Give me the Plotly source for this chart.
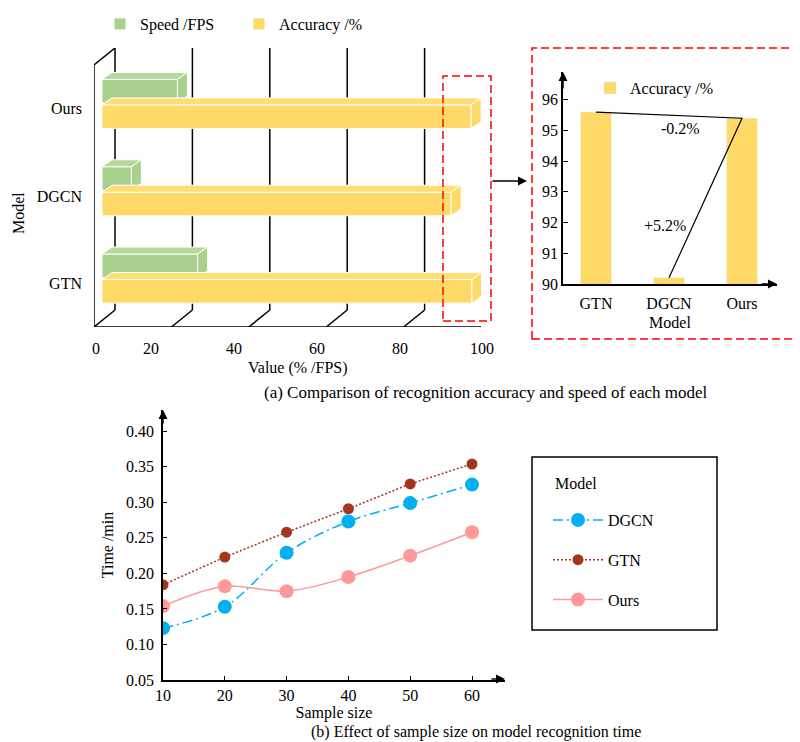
import plotly.graph_objects as go

# ---------------- data ----------------
models = ["GTN", "DGCN", "Ours"]
speed_fps = [24.7, 7.6, 19.5]
accuracy_pct = [95.6, 90.2, 95.4]
value_ticks = [0, 20, 40, 60, 80, 100]

inset_ticks = [90, 91, 92, 93, 94, 95, 96]
diff_labels = ["-0.2%", "+5.2%"]

sample_sizes = [10, 20, 30, 40, 50, 60]
time_dgcn = [0.123, 0.153, 0.229, 0.273, 0.299, 0.325]
time_gtn = [0.184, 0.223, 0.258, 0.291, 0.326, 0.354]
time_ours = [0.154, 0.182, 0.175, 0.195, 0.225, 0.258]
time_ticks = [0.05, 0.10, 0.15, 0.20, 0.25, 0.30, 0.35, 0.40]

# ---------------- style ----------------
W, H = 800, 742
OFF = 8   # page body margin of the browser
FONT = "Liberation Serif, Times New Roman, serif"
FS = 16
GREEN, GREEN_TOP = "#A9D18E", "#B5D99C"
YELLOW, YELLOW_TOP = "#FFD966", "#FFDD75"
BLUE, DARKRED, PINK = "#00B0F0", "#A5341F", "#FF9999"


def PX(x):
    return (x - OFF) / W


def PY(y):
    return 1 - (y - OFF) / H


fig = go.Figure()

# ---- top-left pseudo-3D chart geometry (axis units) ----
X0PX, X100PX = 94, 481
UX = (X100PX - X0PX) / 100.0      # px per value unit
UY = 87.3                          # px per category unit
DEP_X, DEP_Y = 21 / UX, 17 / UY    # back-plane offset
BAR_BASE = 8 / UX                  # bars sit inside the box
BDX, BDY = 10 / UX, 7 / UY         # bar depth
BAR_W = 0.27
ACC_SHIFT, SPD_SHIFT = -8 / UY, 17.5 / UY
YTOP = 3

shapes = []
LINE = dict(color="black", width=1.5)

shapes.append(dict(type="line", xref="x", yref="y", x0=0, y0=0, x1=0, y1=YTOP, line=LINE, layer="below"))
for k in range(YTOP + 1):
    shapes.append(dict(type="line", xref="x", yref="y", x0=0, y0=k, x1=-1.1, y1=k, line=LINE, layer="below"))
shapes.append(dict(type="line", xref="x", yref="y", x0=0, y0=YTOP, x1=DEP_X, y1=YTOP + DEP_Y, line=LINE, layer="below"))
shapes.append(dict(type="line", xref="x", yref="y", x0=0, y0=0, x1=100, y1=0, line=LINE, layer="below"))
for v in value_ticks:
    shapes.append(dict(type="line", xref="x", yref="y", x0=v, y0=0, x1=v + DEP_X, y1=DEP_Y, line=LINE, layer="below"))
    shapes.append(dict(type="line", xref="x", yref="y", x0=v + DEP_X, y0=DEP_Y, x1=v + DEP_X, y1=YTOP + DEP_Y,
                       line=LINE, layer="below"))

ypos = [i + 0.5 for i in range(len(models))]
spd_y = [p + SPD_SHIFT for p in ypos]
acc_y = [p + ACC_SHIFT for p in ypos]


def bar_faces(val, yc, top_col, side_col):
    x0, x1 = BAR_BASE, BAR_BASE + val
    yb, yt = yc - BAR_W / 2, yc + BAR_W / 2
    top = f"M{x0},{yt} L{x1},{yt} L{x1 + BDX},{yt + BDY} L{x0 + BDX},{yt + BDY} Z"
    side = f"M{x1},{yb} L{x1},{yt} L{x1 + BDX},{yt + BDY} L{x1 + BDX},{yb + BDY} Z"
    return [dict(type="path", xref="x", yref="y", path=top, fillcolor=top_col,
                 line=dict(color="white", width=1), layer="above"),
            dict(type="path", xref="x", yref="y", path=side, fillcolor=side_col,
                 line=dict(color="white", width=1), layer="above")]


for i in range(len(models)):
    shapes += bar_faces(speed_fps[i], spd_y[i], GREEN_TOP, GREEN)
    shapes += bar_faces(accuracy_pct[i], acc_y[i], YELLOW_TOP, YELLOW)

fig.add_trace(go.Bar(orientation="h", x=speed_fps, y=spd_y, base=BAR_BASE, width=BAR_W,
                     marker=dict(color=GREEN, line=dict(color="white", width=1)),
                     name="Speed /FPS", legend="legend", xaxis="x", yaxis="y", hoverinfo="skip"))
fig.add_trace(go.Bar(orientation="h", x=accuracy_pct, y=acc_y, base=BAR_BASE, width=BAR_W,
                     marker=dict(color=YELLOW, line=dict(color="white", width=1)),
                     name="Accuracy /%", legend="legend", xaxis="x", yaxis="y", hoverinfo="skip"))

# highlight box around the 90-100 region
shapes.append(dict(type="rect", xref="paper", yref="paper", x0=PX(443), x1=PX(491), y0=PY(321), y1=PY(76),
                   line=dict(color="#FF0000", width=1.5, dash="8px,4px"), layer="above"))
# inset frame
shapes.append(dict(type="rect", xref="paper", yref="paper", x0=PX(532), x1=PX(797), y0=PY(339), y1=PY(48),
                   line=dict(color="#FF0000", width=1.5, dash="8px,4px")))

# ---- inset bar chart ----
fig.add_trace(go.Bar(x=models, y=accuracy_pct, width=0.42, marker=dict(color=YELLOW),
                     name="Accuracy /%", legend="legend2", xaxis="x2", yaxis="y2", hoverinfo="skip"))
fig.add_trace(go.Scatter(x=[models[0], models[2], models[1]],
                         y=[accuracy_pct[0], accuracy_pct[2], accuracy_pct[1]],
                         mode="lines", line=dict(color="black", width=1.2),
                         showlegend=False, xaxis="x2", yaxis="y2", hoverinfo="skip"))

# ---- bottom line chart ----
fig.add_trace(go.Scatter(x=sample_sizes, y=time_dgcn, name="DGCN", mode="lines+markers",
                         line=dict(color=BLUE, width=1.5, dash="10px,4px,2px,4px", shape="spline"),
                         marker=dict(size=14, color=BLUE), legend="legend3", legendgroup="a",
                         xaxis="x3", yaxis="y3"))
fig.add_trace(go.Scatter(x=sample_sizes, y=time_gtn, name="GTN", mode="lines+markers",
                         line=dict(color=DARKRED, width=1.5, dash="2px,2px"),
                         marker=dict(size=11, color=DARKRED), legend="legend3", legendgroup="b",
                         xaxis="x3", yaxis="y3"))
fig.add_trace(go.Scatter(x=sample_sizes, y=time_ours, name="Ours", mode="lines+markers",
                         line=dict(color=PINK, width=1.5, shape="spline"),
                         marker=dict(size=14, color=PINK), legend="legend3", legendgroup="c",
                         xaxis="x3", yaxis="y3"))
shapes.append(dict(type="rect", xref="paper", yref="paper", x0=PX(532), x1=PX(717), y0=PY(630), y1=PY(457),
                   line=dict(color="black", width=1.5)))

# ---------------- annotations ----------------
ann = []


def label(text, x, y, size=FS, **kw):
    d = dict(text=text, x=PX(x), y=PY(y), xref="paper", yref="paper", showarrow=False,
             xanchor="center", yanchor="middle", font=dict(size=size))
    d.update(kw)
    return d


tick_px = [96, 151, 234, 317, 400, 482]
for v, xp in zip(value_ticks, tick_px):
    ann.append(label(str(v), xp, 348))
ann.append(label("Value (% /FPS)", 298, 368))
ann.append(label("Model", 18, 213, textangle=-90))
ann.append(label("(a) Comparison of recognition accuracy and speed of each model", 486, 392, size=17))
ann.append(label("(b) Effect of sample size on model recognition time", 476, 732))
ann.append(label("Model", 576, 483))
ann.append(dict(text=diff_labels[0], x=1.16, y=95.08, xref="x2", yref="y2", showarrow=False,
                xanchor="center", yanchor="middle"))
ann.append(dict(text=diff_labels[1], x=0.95, y=91.92, xref="x2", yref="y2", showarrow=False,
                xanchor="center", yanchor="middle"))


def arrow(x0, y0, x1, y1):
    return dict(text="", x=PX(x1), y=PY(y1), ax=x0 - x1, ay=y0 - y1, xref="paper", yref="paper",
                axref="pixel", ayref="pixel", showarrow=True, arrowhead=2, arrowsize=1.2,
                arrowwidth=1.5, arrowcolor="black", standoff=0)


ann.append(arrow(491, 181, 527, 181))
ann.append(arrow(563, 90, 563, 72))
ann.append(arrow(760, 284, 777, 284))
ann.append(arrow(163, 425, 163, 410))
ann.append(arrow(490, 679, 505, 679))

AX = dict(showgrid=False, zeroline=False, linecolor="black", linewidth=1.5, tickcolor="black",
          tickfont=dict(size=FS), automargin=False)

fig.update_layout(
    width=W, height=H, margin=dict(l=0, r=0, t=0, b=0, pad=0, autoexpand=False),
    paper_bgcolor="white", plot_bgcolor="rgba(0,0,0,0)",
    font=dict(family=FONT, size=FS, color="black"),
    barmode="overlay",
    shapes=shapes, annotations=ann,
    xaxis=dict(domain=[PX(X0PX), PX(X100PX)], range=[0, 100], visible=False, fixedrange=True,
               automargin=False),
    yaxis=dict(domain=[PY(327), PY(48)], range=[0, YTOP + DEP_Y], anchor="x", tickvals=ypos,
               ticktext=models, showline=False, showgrid=False, zeroline=False, ticks="",
               ticklabelstandoff=11, tickfont=dict(size=FS), automargin=False),
    xaxis2=dict(AX, domain=[PX(563), PX(777)], type="category", categoryorder="array",
                categoryarray=models, range=[-0.452, 2.479], showline=True, ticks="", anchor="y2",
                ticklabelstandoff=4, title=dict(text="Model", standoff=6, font=dict(size=FS))),
    yaxis2=dict(AX, domain=[PY(284), PY(72)], range=[90, 96.905], tickvals=inset_ticks, showline=True,
                ticks="inside", ticklen=5, anchor="x2", ticklabelposition="outside"),
    xaxis3=dict(AX, domain=[PX(163), PX(505)], range=[10, 65.34], tickvals=sample_sizes, showline=True,
                ticks="inside", ticklen=4, anchor="y3",
                title=dict(text="Sample size", standoff=2, font=dict(size=FS))),
    yaxis3=dict(AX, domain=[PY(680), PY(410)], range=[0.05, 0.430], tickvals=time_ticks, tickformat=".2f",
                showline=True, ticks="inside", ticklen=4, anchor="x3", ticklabelstandoff=4,
                title=dict(text="Time /min", standoff=8, font=dict(size=FS))),
    legend=dict(orientation="h", x=PX(100), y=PY(7), xanchor="left", yanchor="top",
                bgcolor="rgba(0,0,0,0)", font=dict(size=FS), entrywidth=94, entrywidthmode="pixels"),
    legend2=dict(x=PX(590), y=PY(71), xanchor="left", yanchor="top", bgcolor="rgba(0,0,0,0)",
                 font=dict(size=FS)),
    legend3=dict(x=PX(548), y=PY(503), xanchor="left", yanchor="top", bgcolor="rgba(0,0,0,0)",
                 font=dict(size=FS), tracegroupgap=16, itemwidth=50),
)

fig.write_html("out.html")
